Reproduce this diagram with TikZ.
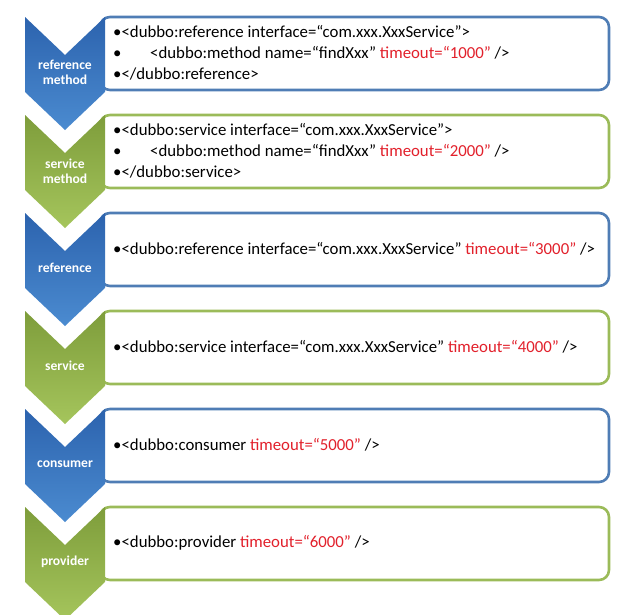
\documentclass[tikz,border=0pt]{standalone}
\usepackage{fontspec}
\setmainfont{Carlito}
\definecolor{boxblue}{HTML}{4F7DB5}
\definecolor{boxgreen}{HTML}{9BBB59}
\definecolor{chevbluetop}{HTML}{2C63AE}
\definecolor{chevbluebot}{HTML}{4B8BD0}
\definecolor{chevgreentop}{HTML}{7E9D3B}
\definecolor{chevgreenbot}{HTML}{A5C55C}
\definecolor{attrred}{HTML}{E2202B}
\newcommand{\tmo}[1]{\textcolor{attrred}{timeout=“#1”}}
\newcommand{\indentbullet}{\hbox to 37pt{•\hfil}}

\tikzset{
  chevblue/.style={top color=chevbluetop, bottom color=chevbluebot, draw=none},
  chevgreen/.style={top color=chevgreentop, bottom color=chevgreenbot, draw=none},
  codebox/.style={line width=2.6pt, rounded corners=10pt, fill=white},
  codeline/.style={anchor=west, inner sep=0pt, font=\fontsize{16.8}{19}\selectfont},
  chevlabel/.style={text=white, align=center, inner sep=0pt, font=\bfseries\fontsize{13.6}{15}\selectfont}
}

\begin{document}
\begin{tikzpicture}[x=1pt,y=-1pt]
\useasboundingbox (0,0) rectangle (640,614);
\clip (0,0) rectangle (640,614);
% boxes first, chevrons on top of their left edges
\foreach \t/\c in {17/blue,115/green,213/blue,311/green,409/blue,507/green}{
  \draw[codebox, draw=box\c] (100,\t) rectangle (609,\t+73);
}
\foreach \t/\c in {17/blue,115/green,213/blue,311/green,409/blue,507/green}{
  \path[chev\c] (25,\t) -- (65,\t+38) -- (105,\t) -- (105,\t+75) -- (65,\t+113) -- (25,\t+75) -- cycle;
}

% labels
\node[chevlabel] (lrefm) at (65,72) {reference\\method};
\node[chevlabel] (lsrvm) at (65,171) {service\\method};
\node[chevlabel] (lref) at (65,268) {reference};
\node[chevlabel] (lsrv) at (65,366) {service};
\node[chevlabel] (lcon) at (65,464) {consumer};
\node[chevlabel] (lpro) at (65,562) {provider};

% code text
\node[codeline] (refm1) at (113,32) {•<dubbo:reference interface=“com.xxx.XxxService”>};
\node[codeline] (refm2) at (113,53) {\indentbullet<dubbo:method name=“findXxx” \tmo{1000} />};
\node[codeline] (refm3) at (113,74) {•</dubbo:reference>};
\node[codeline] (srvm1) at (113,130) {•<dubbo:service interface=“com.xxx.XxxService”>};
\node[codeline] (srvm2) at (113,151) {\indentbullet<dubbo:method name=“findXxx” \tmo{2000} />};
\node[codeline] (srvm3) at (113,172) {•</dubbo:service>};
\node[codeline] (ref1) at (113,249) {•<dubbo:reference interface=“com.xxx.XxxService” \tmo{3000} />};
\node[codeline] (srv1) at (113,347) {•<dubbo:service interface=“com.xxx.XxxService” \tmo{4000} />};
\node[codeline] (con1) at (113,445) {•<dubbo:consumer \tmo{5000} />};
\node[codeline] (pro1) at (113,543) {•<dubbo:provider \tmo{6000} />};
\end{tikzpicture}
\end{document}
